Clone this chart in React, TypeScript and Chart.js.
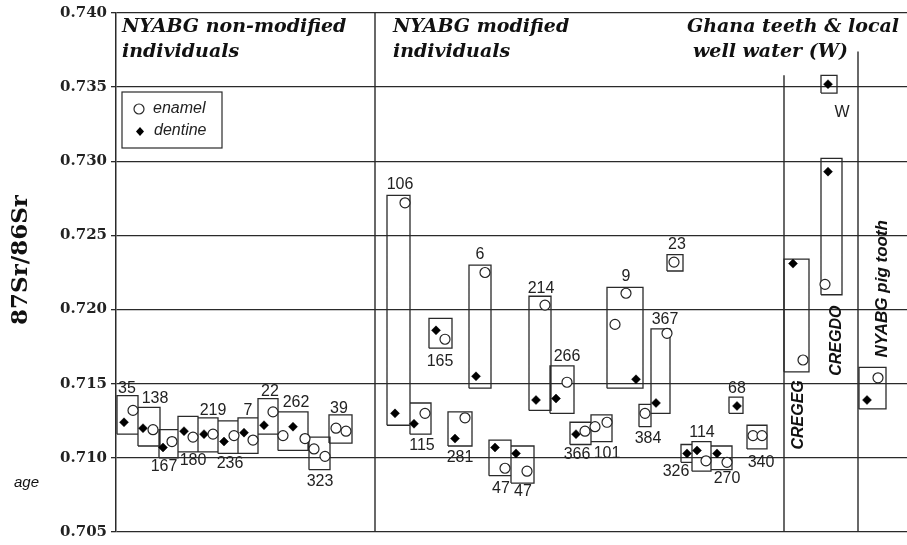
import React, { useEffect, useRef } from 'react';
import { Chart, registerables } from 'chart.js';

Chart.register(...registerables);

// ---------- data ----------
const yTicks = [0.705, 0.71, 0.715, 0.72, 0.725, 0.73, 0.735, 0.74];

// sample boxes (x in slot units along the axis, y = 87Sr/86Sr range)
const boxIds = ['35', '138', '167', '180', '219', '236', '7', '22', '262', '323', '39',
  '106', '115', '165', '281', '6', '47', '47', '214', '266', '366', '101', '9', '384', '367', '23',
  '326', '114', '270', '68', '340', 'CREGEG', 'CREGDO', 'W', 'pig'];
const boxLeft = [1, 22, 43, 62, 82, 102, 122, 142, 162, 193, 213,
  271, 294, 313, 332, 353, 373, 395, 413, 434, 454, 475, 491, 523, 535, 551,
  565, 576, 595, 613, 631, 668, 705, 705, 743];
const boxRight = [22, 44, 62, 82, 102, 122, 142, 162, 192, 214, 236,
  294, 315, 336, 356, 375, 395, 418, 435, 458, 475, 496, 527, 535, 554, 567,
  576, 595, 616, 627, 651, 693, 726, 721, 770];
const boxLow = [0.7116, 0.7108, 0.7100, 0.7104, 0.7104, 0.7103, 0.7103, 0.7116, 0.7105, 0.7092, 0.7110,
  0.7122, 0.7116, 0.7174, 0.7108, 0.7147, 0.7088, 0.7083, 0.7132, 0.7130, 0.7109, 0.7111, 0.7147, 0.7121, 0.7130, 0.7226,
  0.7097, 0.7091, 0.7092, 0.7130, 0.7106, 0.7158, 0.7210, 0.7346, 0.7133];
const boxHigh = [0.7142, 0.7134, 0.7119, 0.7128, 0.7127, 0.7125, 0.7127, 0.7140, 0.7131, 0.7114, 0.7129,
  0.7277, 0.7137, 0.7194, 0.7131, 0.7230, 0.7112, 0.7108, 0.7209, 0.7162, 0.7124, 0.7129, 0.7215, 0.7136, 0.7187, 0.7237,
  0.7109, 0.7111, 0.7108, 0.7141, 0.7122, 0.7234, 0.7302, 0.7358, 0.7161];

// enamel (open circles)
const enamelX = [17, 37, 56, 77, 97, 118, 137, 157, 167, 189, 198, 209, 220, 230,
  289, 309, 329, 349, 369, 389, 411, 429, 451, 469, 479, 491, 510, 499, 529, 551, 558, 590, 611, 637, 646,
  687, 709, 762];
const enamelY = [0.7132, 0.7119, 0.7111, 0.7114, 0.7116, 0.7115, 0.7112, 0.7131, 0.7115, 0.7113, 0.7106, 0.7101, 0.7120, 0.7118,
  0.7272, 0.7130, 0.7180, 0.7127, 0.7225, 0.7093, 0.7091, 0.7203, 0.7151, 0.7118, 0.7121, 0.7124, 0.7211, 0.7190, 0.7130, 0.7184, 0.7232, 0.7098, 0.7097, 0.7115, 0.7115,
  0.7166, 0.7217, 0.7154];

// dentine (filled diamonds)
const dentineX = [8, 27, 47, 68, 88, 108, 128, 148, 177,
  279, 298, 320, 339, 360, 379, 400, 420, 440, 460, 520, 540, 571, 581, 601, 621,
  677, 712, 712, 751];
const dentineY = [0.7124, 0.7120, 0.7107, 0.7118, 0.7116, 0.7111, 0.7117, 0.7122, 0.7121,
  0.7130, 0.7123, 0.7186, 0.7113, 0.7155, 0.7107, 0.7103, 0.7139, 0.7140, 0.7116, 0.7153, 0.7137, 0.7103, 0.7105, 0.7103, 0.7135,
  0.7231, 0.7293, 0.7352, 0.7139];

// sample number labels
const labelText = ['35', '138', '167', '180', '219', '236', '7', '22', '262', '323', '39',
  '106', '115', '165', '281', '6', '47', '47', '214', '266', '366', '101', '9', '384', '367', '23',
  '326', '114', '270', '68', '340', 'W'];
const labelX = [11, 39, 48, 77, 97, 114, 132, 154, 180, 204, 223,
  284, 306, 324, 344, 364, 385, 407, 425, 451, 461, 491, 510, 532, 549, 561,
  560, 586, 611, 621, 645, 726];
const labelY = [0.7147, 0.7140, 0.7094, 0.7098, 0.7132, 0.7096, 0.7132, 0.7145, 0.7137, 0.7084, 0.7133,
  0.7284, 0.7108, 0.7165, 0.7100, 0.7237, 0.7079, 0.7077, 0.7214, 0.7168, 0.7102, 0.7103, 0.7222, 0.7113, 0.7193, 0.7244,
  0.7091, 0.7117, 0.7086, 0.7147, 0.7097, 0.7333];

// vertical (rotated) group labels
const vertText = ['CREGEG', 'CREGDO', 'NYABG pig tooth'];
const vertX = [687, 725, 771];
const vertY = [0.7129, 0.7179, 0.7214];

// group dividers
const dividerX = [259, 668, 742];
const dividerTop = [0.740, 0.7358, 0.7374];

const headings = [
  ['NYABG non-modified', 'individuals'],
  ['NYABG modified', 'individuals'],
  ['Ghana teeth & local', 'well water (W)'],
];

const LINE = '#2a2a2a';
const SANS = "'Liberation Sans', Arial, sans-serif";
const SERIF = "'DejaVu Serif', Georgia, serif";

export default function App() {
  const ref = useRef<HTMLCanvasElement>(null);

  useEffect(() => {
    document.body.style.margin = '0';
    const canvas = ref.current;
    if (!canvas) return;

    const boxes: any[] = [];
    boxIds.forEach((_, i) => {
      boxes.push({ x: boxLeft[i], y: boxLow[i] });
      boxes.push({ x: boxLeft[i], y: boxHigh[i] });
      boxes.push({ x: boxRight[i], y: boxHigh[i] });
      boxes.push({ x: boxRight[i], y: boxLow[i] });
      boxes.push({ x: boxLeft[i], y: boxLow[i] });
      boxes.push({ x: boxLeft[i], y: null });
    });
    const dividers: any[] = [];
    dividerX.forEach((x, i) => {
      dividers.push({ x, y: 0.705 });
      dividers.push({ x, y: dividerTop[i] });
      dividers.push({ x, y: null });
    });
    const enamel = enamelX.map((x, i) => ({ x, y: enamelY[i] }));
    const dentine = dentineX.map((x, i) => ({ x, y: dentineY[i] }));

    const textPlugin = {
      id: 'texts',
      afterDatasetsDraw(chart: any) {
        const { ctx } = chart;
        const xs = chart.scales.x;
        const ys = chart.scales.y;
        ctx.save();
        // sample labels
        ctx.fillStyle = '#222';
        ctx.font = `16px ${SANS}`;
        ctx.textAlign = 'center';
        ctx.textBaseline = 'middle';
        labelText.forEach((t, i) => {
          ctx.fillText(t, xs.getPixelForValue(labelX[i]), ys.getPixelForValue(labelY[i]));
        });
        // vertical labels
        vertText.forEach((t, i) => {
          ctx.save();
          ctx.translate(xs.getPixelForValue(vertX[i]), ys.getPixelForValue(vertY[i]));
          ctx.rotate(-Math.PI / 2);
          ctx.font = `italic bold ${i === 2 ? 17 : 16}px ${SANS}`;
          ctx.textAlign = 'center';
          ctx.textBaseline = 'alphabetic';
          ctx.fillStyle = '#111';
          ctx.fillText(t, 0, 0);
          ctx.restore();
        });
        // headings
        ctx.fillStyle = '#111';
        ctx.textAlign = 'left';
        ctx.textBaseline = 'alphabetic';
        ctx.font = `italic bold 19px ${SERIF}`;
        const hx = [6, 277, 571];
        const hx2 = [6, 277, 577];
        headings.forEach((h, i) => {
          ctx.fillText(h[0], xs.getPixelForValue(hx[i]), 32);
          ctx.fillText(h[1], xs.getPixelForValue(hx2[i]), 57);
        });
        // legend
        const lx = xs.getPixelForValue(6);
        ctx.strokeStyle = LINE;
        ctx.lineWidth = 1.2;
        ctx.strokeRect(lx, 92, 100, 56);
        ctx.beginPath();
        ctx.arc(lx + 17, 109, 5, 0, Math.PI * 2);
        ctx.fillStyle = '#fff';
        ctx.fill();
        ctx.stroke();
        ctx.fillStyle = '#000';
        ctx.beginPath();
        ctx.moveTo(lx + 18, 127);
        ctx.lineTo(lx + 22, 131.5);
        ctx.lineTo(lx + 18, 136);
        ctx.lineTo(lx + 14, 131.5);
        ctx.closePath();
        ctx.fill();
        ctx.font = `italic 16px ${SANS}`;
        ctx.fillStyle = '#222';
        ctx.textBaseline = 'middle';
        ctx.fillText('enamel', lx + 31, 109);
        ctx.fillText('dentine', lx + 32, 131);
        ctx.restore();

        // y-axis title and 'age'
        ctx.save();
        ctx.fillStyle = '#111';
        ctx.translate(27, 260);
        ctx.rotate(-Math.PI / 2);
        ctx.font = `bold 23px ${SERIF}`;
        ctx.textAlign = 'center';
        ctx.textBaseline = 'alphabetic';
        ctx.fillText('87Sr/86Sr', 0, 0);
        ctx.restore();
        ctx.save();
        ctx.fillStyle = '#111';
        ctx.font = `italic 15px ${SANS}`;
        ctx.textAlign = 'left';
        ctx.textBaseline = 'alphabetic';
        ctx.fillText('age', 14, 487);
        ctx.restore();
      },
    };

    const chart = new Chart(canvas, {
      type: 'scatter',
      data: {
        datasets: [
          {
            label: 'enamel', data: enamel, pointStyle: 'circle', pointRadius: 5, pointHoverRadius: 5,
            pointBackgroundColor: '#fff', pointBorderColor: '#222', pointBorderWidth: 1.2, showLine: false, order: 0,
          } as any,
          {
            label: 'dentine', data: dentine, pointStyle: 'rectRot', pointRadius: 4.5, pointHoverRadius: 4.5,
            pointBackgroundColor: '#000', pointBorderColor: '#000', pointBorderWidth: 0.5, showLine: false, order: 1,
          } as any,
          {
            label: 'boxes', data: boxes, showLine: true, borderColor: LINE, borderWidth: 1.3, pointRadius: 0,
            spanGaps: false, fill: false, order: 5, borderJoinStyle: 'miter',
          } as any,
          {
            label: 'dividers', data: dividers, showLine: true, borderColor: LINE, borderWidth: 1.4, pointRadius: 0,
            spanGaps: false, fill: false, order: 6,
          } as any,
        ],
      },
      options: {
        responsive: false,
        animation: false,
        events: [],
        layout: { autoPadding: false, padding: { left: 0, right: 0, top: 9.5, bottom: 10 } },
        plugins: { legend: { display: false }, tooltip: { enabled: false } },
        scales: {
          x: { type: 'linear', min: 0, max: 791, display: false },
          y: {
            type: 'linear', min: 0.705, max: 0.74, position: 'left',
            afterFit: (s: any) => { s.width = 116; },
            afterBuildTicks: (s: any) => { s.ticks = yTicks.map((v) => ({ value: v })); },
            border: { display: true, color: LINE, width: 1.5 },
            grid: { color: LINE, lineWidth: 1.3, tickLength: 5, drawTicks: true },
            ticks: {
              padding: 4, color: '#222',
              font: { family: SERIF, weight: 'bold', size: 15 },
              callback: (v: any) => Number(v).toFixed(3),
            },
          },
        },
      } as any,
      plugins: [textPlugin],
    });
    return () => chart.destroy();
  }, []);

  return (
    <div style={{ width: 907, height: 545, background: '#fff' }}>
      <canvas ref={ref} width={907} height={545} style={{ display: 'block' }} />
    </div>
  );
}
